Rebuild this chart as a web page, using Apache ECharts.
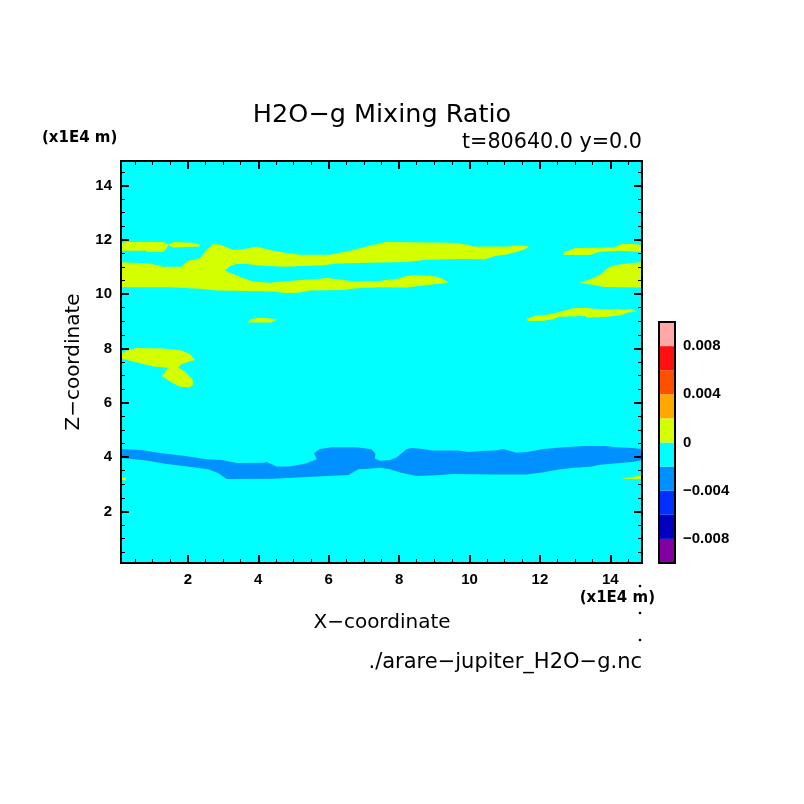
<!DOCTYPE html>
<html>
<head>
<meta charset="UTF-8">
<title>H2O-g Mixing Ratio</title>
<script src="https://cdn.jsdelivr.net/npm/echarts@6/dist/echarts.min.js"></script>
<style>
html, body { margin: 0; padding: 0; background: #fff; }
#main { width: 804px; height: 804px; }
</style>
</head>
<body>
<div id="main"></div>
<script>
// x, z in units of 1E4 m
var xRange = [0.1, 14.9];
var zRange = [0.1, 14.9];
var majorTicks = [2, 4, 6, 8, 10, 12, 14];
var minorTicks = [0.5, 1, 1.5, 2.5, 3, 3.5, 4.5, 5, 5.5, 6.5, 7, 7.5, 8.5, 9, 9.5, 10.5, 11, 11.5, 12.5, 13, 13.5, 14.5];

// regions between 0 and 0.002
var yellowRegions = [
	// the long band at z = 10..12, open to the right
	[[0.1,10.25],[0.735,10.25],[1.49,10.25],[2.34,10.2],[2.82,10.13],[3.57,10.11],[4.43,10.1],[4.76,10.04],[5.14,10.05],[5.47,10.13],[6.42,10.15],[6.7,10.21],[7.46,10.25],[8.2,10.24],[8.58,10.3],[9.26,10.4],[9.39,10.43],[9.21,10.58],[9.07,10.64],[8.78,10.68],[8.5,10.7],[8.22,10.67],[8.03,10.6],[7.88,10.54],[7.6,10.52],[7.46,10.48],[6.7,10.46],[6.32,10.54],[5.94,10.59],[5.66,10.56],[5.18,10.52],[4.71,10.46],[4.33,10.42],[3.86,10.46],[3.58,10.58],[3.29,10.74],[3.05,10.86],[3.2,11.03],[3.39,11.11],[3.67,11.11],[3.95,11.06],[4.71,11.01],[5.28,11.03],[5.85,11.06],[6.23,11.13],[7.46,11.16],[8.2,11.18],[8.78,11.26],[9.68,11.29],[10.44,11.28],[10.73,11.4],[11.06,11.46],[11.34,11.56],[11.58,11.65],[11.69,11.76],[11.34,11.81],[11.15,11.75],[10.11,11.75],[9.92,11.83],[9.54,11.89],[7.6,11.92],[7.46,11.87],[7.08,11.75],[6.61,11.6],[6.04,11.45],[5.18,11.45],[4.71,11.53],[4.33,11.62],[3.95,11.75],[3.58,11.65],[3.29,11.62],[2.91,11.83],[2.72,11.84],[2.53,11.62],[2.34,11.32],[2.01,11.23],[1.82,11.01],[1.3,11.01],[0.92,11.13],[0.1,11.17]],
	// top left strip
	[[0.1,11.6],[0.83,11.6],[0.85,11.55],[1.3,11.55],[1.4,11.69],[1.44,11.81],[1.59,11.72],[2.34,11.75],[2.36,11.81],[2.16,11.89],[1.59,11.92],[1.44,11.83],[1.3,11.92],[0.26,11.92],[0.1,11.87]],
	// top right strip
	[[12.69,11.44],[13.42,11.44],[13.71,11.56],[14.32,11.6],[14.9,11.55],[14.9,11.82],[14.65,11.84],[14.32,11.84],[14.09,11.72],[13,11.7],[12.81,11.6],[12.69,11.55]],
	// right lump
	[[13.14,10.43],[13.42,10.54],[13.59,10.64],[13.76,10.76],[13.85,10.89],[14.04,11.03],[14.32,11.1],[14.51,11.13],[14.9,11.18],[14.9,10.24],[13.8,10.26],[13.59,10.33],[13.28,10.38]],
	// strip at z = 9..9.5
	[[11.59,9.07],[11.67,9.01],[12.1,9.02],[12.38,9.07],[12.54,9.17],[13.28,9.19],[13.33,9.14],[13.85,9.16],[14.32,9.23],[14.51,9.32],[14.77,9.37],[14.61,9.44],[13.61,9.45],[13.33,9.49],[13,9.49],[12.76,9.41],[12.52,9.33],[12.24,9.25],[11.91,9.22],[11.67,9.11]],
	// small blob near x = 4
	[[3.7,8.95],[4.38,8.95],[4.54,9.07],[4.29,9.11],[4,9.13],[3.81,9.08]],
	// left blob
	[[0.1,7.79],[0.1,7.63],[0.36,7.55],[0.73,7.43],[1.02,7.33],[1.44,7.29],[1.35,7.14],[1.255,6.98],[1.59,6.71],[1.78,6.59],[2.06,6.57],[2.14,6.65],[2.14,6.84],[1.92,7.14],[1.73,7.3],[1.82,7.43],[2.2,7.57],[2.06,7.79],[1.82,7.92],[1.3,8],[0.545,8.02],[0.26,7.92]],
	// slivers on the side edges
	[[0.1,3.15],[0.24,3.15],[0.24,3.22],[0.37,3.26],[0.1,3.24]],
	[[14.32,3.19],[14.9,3.19],[14.9,3.3],[14.8,3.3],[14.51,3.25]]
];

// regions between -0.002 and 0
var blueRegions = [
	[[0.1,4.3],[0.69,4.26],[1.16,4.16],[1.87,4.05],[2.53,3.92],[2.96,3.89],[3.39,3.78],[4.14,3.79],[4.24,3.82],[4.52,3.65],[4.9,3.65],[5.37,3.77],[5.66,3.92],[5.58,4.14],[5.75,4.3],[6.08,4.36],[6.79,4.36],[7.22,4.29],[7.33,4.11],[7.31,3.95],[7.46,3.86],[7.74,3.89],[7.93,3.98],[8.05,4.11],[8.2,4.29],[8.36,4.33],[8.64,4.31],[8.93,4.24],[9.68,4.24],[9.97,4.19],[10.3,4.22],[10.73,4.24],[10.96,4.3],[11.34,4.16],[11.62,4.19],[12.1,4.3],[12.67,4.36],[13.28,4.41],[13.85,4.41],[14.18,4.36],[14.63,4.33],[14.9,4.3],[14.9,3.89],[14.75,3.85],[14.61,3.82],[14.18,3.77],[13.71,3.72],[13.47,3.65],[12.99,3.61],[12.57,3.55],[12.1,3.44],[11.62,3.36],[10.73,3.36],[9.54,3.38],[9.07,3.33],[8.5,3.3],[8.03,3.43],[7.74,3.55],[7.46,3.61],[7.13,3.57],[6.84,3.55],[6.56,3.34],[5.66,3.28],[4.43,3.2],[3.1,3.19],[2.87,3.4],[2.58,3.55],[1.87,3.67],[1.35,3.75],[0.83,3.87],[0.355,3.94],[0.1,3.97]]
];

// colour bar
var levelEdges = [-0.01, -0.008, -0.006, -0.004, -0.002, 0, 0.002, 0.004, 0.006, 0.008, 0.01];
var levelColors = ['#8000A0', '#0000C0', '#0030FF', '#0090FF', '#00FFFF', '#D4FF00', '#FFA800', '#FF5000', '#FF1010', '#FFA8A8'];
var barLabels = [-0.008, -0.004, 0, 0.004, 0.008];

var FONT = 'DejaVu Sans';
var FONT_LABEL = { fontFamily: 'Liberation Sans', fontSize: 15, fontWeight: 'bold', color: '#000' };

function makeAxis(gridIndex, position, range, ticks, tickLen, tickWidth, labels) {
	return {
		type: 'value',
		gridIndex: gridIndex,
		position: position,
		min: range[0],
		max: range[1],
		z: 5,
		splitLine: { show: false },
		axisLine: { show: true, onZero: false, lineStyle: { color: '#000', width: 2 } },
		axisTick: {
			show: ticks.length > 0,
			inside: true,
			length: tickLen,
			customValues: ticks,
			lineStyle: { color: '#000', width: tickWidth }
		},
		axisLabel: labels || { show: false }
	};
}

function regionSeries(regions, color) {
	return {
		type: 'custom',
		xAxisIndex: 0,
		yAxisIndex: 0,
		clip: true,
		silent: true,
		data: regions.map(function (r) { return r[0]; }),
		renderItem: function (params, api) {
			var points = regions[params.dataIndex].map(function (p) { return api.coord(p); });
			return { type: 'polygon', shape: { points: points }, style: { fill: color } };
		}
	};
}

function text(str, x, y, size, align, rotation, weight) {
	return {
		type: 'text',
		x: x,
		y: y,
		rotation: rotation || 0,
		style: {
			text: str,
			fontFamily: FONT,
			fontSize: size,
			fontWeight: weight || 'normal',
			fill: '#000',
			align: align,
			verticalAlign: 'middle'
		}
	};
}

function dot(x, y) {
	return { type: 'circle', shape: { cx: x, cy: y, r: 1.3 }, style: { fill: '#000' } };
}

var tickLabels = Object.assign({ show: true, margin: 9, customValues: majorTicks, hideOverlap: false }, FONT_LABEL);

var xAxes = [
	makeAxis(0, 'bottom', xRange, majorTicks, 8, 2, tickLabels),
	makeAxis(0, 'top', xRange, majorTicks, 8, 2),
	makeAxis(0, 'bottom', xRange, minorTicks, 4, 1),
	makeAxis(0, 'top', xRange, minorTicks, 4, 1),
	makeAxis(1, 'bottom', [0, 1], []),
	makeAxis(1, 'top', [0, 1], [])
];
var yAxes = [
	makeAxis(0, 'left', zRange, majorTicks, 8, 2, tickLabels),
	makeAxis(0, 'right', zRange, majorTicks, 8, 2),
	makeAxis(0, 'left', zRange, minorTicks, 4, 1),
	makeAxis(0, 'right', zRange, minorTicks, 4, 1),
	makeAxis(1, 'left', [-0.01, 0.01], []),
	makeAxis(1, 'right', [-0.01, 0.01], [], 0, 0, Object.assign({
		show: true,
		margin: 8,
		customValues: barLabels,
		formatter: function (v) { return String(v).replace('-', '\u2212'); }
	}, FONT_LABEL))
];

var myChart = echarts.init(document.getElementById('main'));

var option = {
	backgroundColor: '#fff',
	animation: false,
	grid: [
		{ left: 121, top: 161, width: 521, height: 402, show: true, backgroundColor: '#00FFFF', borderWidth: 0 },
		{ left: 659, top: 322, width: 16, height: 241, show: false }
	],
	xAxis: xAxes,
	yAxis: yAxes,
	series: [
		regionSeries(yellowRegions, '#D4FF00'),
		regionSeries(blueRegions, '#0090FF'),
		{
			type: 'custom',
			xAxisIndex: 4,
			yAxisIndex: 4,
			silent: true,
			data: levelColors.map(function (c, i) { return [levelEdges[i], levelEdges[i + 1]]; }),
			renderItem: function (params, api) {
				var a = api.coord([0, api.value(0)]);
				var b = api.coord([1, api.value(1)]);
				return {
					type: 'rect',
					shape: { x: a[0], y: b[1], width: b[0] - a[0], height: a[1] - b[1] },
					style: { fill: levelColors[params.dataIndex] }
				};
			},
			encode: { y: [0, 1] }
		}
	],
	graphic: [
		text('H2O\u2212g Mixing Ratio', 382, 115, 25.5, 'center'),
		text('t=80640.0 y=0.0', 642, 143, 20.7, 'right'),
		text('(x1E4 m)', 42, 138, 15, 'left', 0, 'bold'),
		text('(x1E4 m)', 655, 598, 15, 'right', 0, 'bold'),
		text('X\u2212coordinate', 382, 623, 20, 'center'),
		text('Z\u2212coordinate', 74, 362, 20, 'center', Math.PI / 2),
		text('./arare\u2212jupiter_H2O\u2212g.nc', 642, 663, 21, 'right'),
		dot(640, 586),
		dot(640, 613),
		dot(640, 640)
	]
};

myChart.setOption(option);
</script>
</body>
</html>
